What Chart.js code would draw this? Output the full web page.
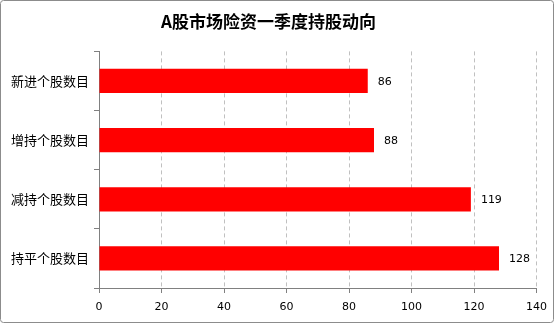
<!DOCTYPE html>
<html>
<head>
<meta charset="utf-8">
<script src="https://cdn.jsdelivr.net/npm/chart.js@4/dist/chart.umd.min.js"></script>
<style>
  html, body { margin: 0; padding: 0; background: #fff; }
  #wrap { width: 555px; height: 324px; }
</style>
</head>
<body>
<div id="wrap"><canvas id="chart" width="555" height="324"></canvas></div>
<script>
// 数据
const chartTitle = "A股市场险资一季度持股动向";
const categories = ["新进个股数目", "增持个股数目", "减持个股数目", "持平个股数目"];
const counts = [86, 88, 119, 128];
const xTicks = [0, 20, 40, 60, 80, 100, 120, 140];

const cjkFont = "'Noto Sans CJK SC', 'Noto Sans', sans-serif";
const numFont = "'DejaVu Sans', sans-serif";

// 画外框 + 数值标签
const extras = {
  id: "extras",
  beforeDraw(chart) {
    const ctx = chart.ctx;
    ctx.save();
    ctx.strokeStyle = "#8c8c8c";
    ctx.lineWidth = 1;
    ctx.beginPath();
    ctx.roundRect(0.5, 0.5, 553, 322, 3);
    ctx.stroke();
    ctx.restore();
  },
  afterDatasetsDraw(chart) {
    const ctx = chart.ctx;
    const meta = chart.getDatasetMeta(0);
    ctx.save();
    ctx.font = "11px " + numFont;
    ctx.fillStyle = "#000";
    ctx.textAlign = "left";
    ctx.textBaseline = "middle";
    meta.data.forEach((bar, i) => {
      ctx.fillText(String(counts[i]), bar.x + 10, bar.y + 1);
    });
    ctx.restore();
  },
};

new Chart(document.getElementById("chart").getContext("2d"), {
  type: "bar",
  data: {
    labels: categories,
    datasets: [
      {
        data: counts,
        backgroundColor: "#ff0000",
        borderWidth: 0,
        categoryPercentage: 1,
        barPercentage: 0.41,
      },
    ],
  },
  options: {
    indexAxis: "y",
    responsive: false,
    animation: false,
    layout: { padding: { left: 0, right: 18, top: 0, bottom: 8 } },
    scales: {
      x: {
        min: 0,
        max: 140,
        afterBuildTicks: (scale) => {
          scale.ticks = xTicks.map((v) => ({ value: v }));
        },
        afterFit: (scale) => {
          scale.height = 324 - 8 - 288;
        },
        grid: {
          color: "#c0c0c0",
          drawTicks: true,
          tickLength: 5,
          tickColor: "#808080",
          tickBorderDash: [],
        },
        border: { display: true, color: "#808080", width: 1, dash: [4, 3] },
        ticks: {
          color: "#000",
          font: { family: numFont, size: 11 },
          padding: 8,
          maxRotation: 0,
        },
      },
      y: {
        afterFit: (scale) => {
          scale.width = 99;
        },
        grid: {
          drawOnChartArea: false,
          drawTicks: true,
          tickLength: 5,
          color: "#808080",
          offset: true,
        },
        border: { display: true, color: "#808080", width: 1 },
        ticks: {
          color: "#000",
          font: { family: cjkFont, size: 13 },
          padding: 5,
        },
      },
    },
    plugins: {
      legend: { display: false },
      tooltip: { enabled: false },
      title: {
        display: true,
        text: chartTitle,
        color: "#000",
        font: { family: cjkFont, size: 17, weight: "bold" },
        padding: { top: 11, bottom: 20 },
      },
    },
  },
  plugins: [extras],
});
</script>
</body>
</html>
